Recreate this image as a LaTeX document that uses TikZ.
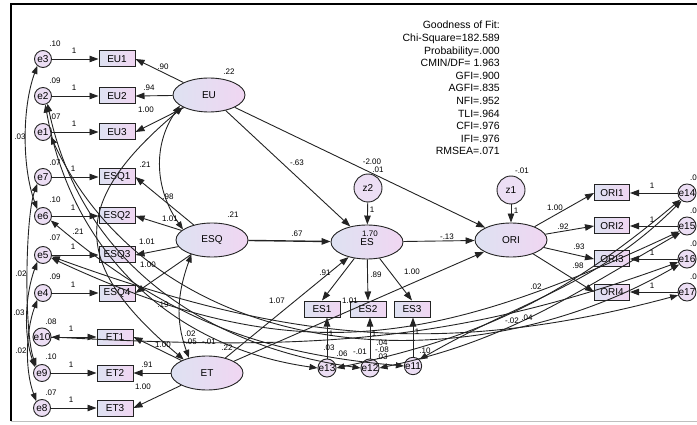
\documentclass[tikz,border=0pt]{standalone}
\usepackage{fontspec}
\setmainfont{Liberation Sans}
\usetikzlibrary{positioning,arrows.meta,shapes.geometric}
\definecolor{LatLeft}{RGB}{222,226,242}
\definecolor{LatRight}{RGB}{240,214,242}
\definecolor{ErrFill}{RGB}{236,222,244}
\definecolor{LineGray}{RGB}{35,35,35}

\begin{document}
\begin{tikzpicture}[
  x=1pt, y=1pt,
  every node/.style={font=\fontsize{10}{12}\selectfont},
  lat/.style={ellipse, draw=LineGray, line width=0.9pt,
    left color=LatLeft, right color=LatRight,
    minimum width=72pt, minimum height=34pt, inner sep=0pt},
  obs/.style={rectangle, draw=LineGray, line width=1pt,
    left color=LatLeft, right color=LatRight,
    minimum width=36pt, minimum height=16pt, inner sep=0pt},
  err/.style={circle, draw=LineGray, line width=0.9pt, fill=ErrFill,
    minimum size=17pt, inner sep=0pt},
  res/.style={err, minimum size=28pt},
  num/.style={font=\fontsize{8}{9}\selectfont, inner sep=0pt},
  pth/.style={-{Triangle[length=9pt,width=6.5pt]}, line width=0.9pt, LineGray},
  cov/.style={{Triangle[length=8pt,width=6pt]}-{Triangle[length=8pt,width=6pt]},
    line width=0.9pt, LineGray},
]
  \useasboundingbox (0,0) rectangle (697,-425);
  % frame
  \draw[line width=1.6pt] (11,-421) -- (11,-4) -- (697,-4);
  \draw[black!25] (11,-421) -- (697,-421);

  % ---------- latent variables ----------
  \node[lat] (EU)  at (209,-95)  {EU};
  \node[lat] (ESQ) at (212,-240) {ESQ};
  \node[lat] (ET)  at (207,-373) {ET};
  \node[lat] (ES)  at (367,-242) {ES};
  \node[lat] (ORI) at (511,-240) {ORI};
  \node[res] (z2)  at (368,-188) {z2};
  \node[res] (z1)  at (511,-190) {z1};

  % ---------- indicators and errors, left ----------
  \foreach \o/\e/\y in {EU1/e3/59, EU2/e2/96, EU3/e1/132,
      ESQ1/e7/177, ESQ2/e6/216, ESQ3/e5/255, ESQ4/e4/293} {
    \node[obs] (\o) at (117,-\y) {\o};
    \node[err] (\e) at (43,-\y) {\e};
  }
  \foreach \o/\e/\y in {ET1/e10/337, ET2/e9/373, ET3/e8/408} {
    \node[obs] (\o) at (115,-\y) {\o};
    \node[err] (\e) at (42,-\y) {\e};
  }
  % ---------- ES block ----------
  \node[obs] (ES1) at (322,-309) {ES1};
  \node[obs] (ES2) at (368,-309) {ES2};
  \node[obs] (ES3) at (412,-309) {ES3};
  \node[err] (e13) at (327,-368) {e13};
  \node[err] (e12) at (370,-368) {e12};
  \node[err] (e11) at (413,-366) {e11};
  % ---------- ORI block ----------
  \foreach \o/\e/\y in {ORI1/e14/193, ORI2/e15/226, ORI3/e16/259, ORI4/e17/292} {
    \node[obs, minimum width=35pt] (\o) at (612,-\y) {\o};
    \node[err] (\e) at (687,-\y) {\e};
  }

  % ---------- fit box ----------
  \node[anchor=north east, align=right, inner sep=0pt,
    font=\fontsize{10.5}{12.6}\selectfont] (fit) at (500,-21)
    {Goodness of Fit:\\Chi-Square=182.589\\Probability=.000\\CMIN/DF= 1.963\\
     GFI=.900\\AGFI=.835\\NFI=.952\\TLI=.964\\CFI=.976\\IFI=.976\\RMSEA=.071};

  % ---------- measurement paths ----------
  \foreach \e/\o in {e3/EU1, e2/EU2, e1/EU3, e7/ESQ1, e6/ESQ2, e5/ESQ3, e4/ESQ4,
      e10/ET1, e9/ET2, e8/ET3}
    \draw[pth] (\e) -- (\o);
  \foreach \l/\o in {EU/EU1, EU/EU2, EU/EU3, ESQ/ESQ1, ESQ/ESQ2, ESQ/ESQ3, ESQ/ESQ4,
      ET/ET1, ET/ET2, ET/ET3}
    \draw[pth] (\l) -- (\o.east);
  \foreach \o in {ES1, ES2, ES3}
    \draw[pth] (ES) -- (\o.north);
  \draw[pth] (e13.north) -- (e13.north|-ES1.south);
  \draw[pth] (e12.north) -- (e12.north|-ES2.south);
  \draw[pth] (e11.north) -- (e11.north|-ES3.south);
  \foreach \o/\e in {ORI1/e14, ORI2/e15, ORI3/e16, ORI4/e17} {
    \draw[pth] (ORI) -- (\o.west);
    \draw[pth] (\e) -- (\o);
  }

  % ---------- structural paths ----------
  \draw[pth] (EU) -- (ES);
  \draw[pth] (EU) -- (ORI);
  \draw[pth, line width=1.4pt] (ESQ) -- (ES);
  \draw[pth] (ES) -- (ORI);
  \draw[pth] (ET) -- (ES);
  \draw[pth] (ET) -- (ORI);
  \draw[pth] (z2) -- (ES);
  \draw[pth] (z1) -- (ORI);

  % ---------- covariances between latents ----------
  \draw[cov] (EU.200) to[out=235, in=125] (ESQ.160);
  \draw[cov] (EU.205) to[out=220, in=140, looseness=1.5] (ET.150);
  \draw[cov] (ESQ.215) to[out=250, in=110] (ET.140);

  % ---------- covariances between errors, left ----------
  \draw[cov] (e3.230) to[out=250, in=110, looseness=0.8] (e6.130);
  \draw[cov] (e7.230) to[out=250, in=110, looseness=0.5] (e9.130);
  \draw[cov] (e5.230) to[out=250, in=110, looseness=0.85] (e9.140);
  \draw[cov] (e4.230) to[out=250, in=110, looseness=0.85] (e8.130);

  % ---------- covariances between errors, across ----------
  \draw[cov] (e2.285) to[out=-80, in=172] (e13.west);
  \draw[cov] (e2.300) to[out=-78, in=172] (e12.west);
  \draw[cov] (e1.330) to[out=-65, in=210] (e16.215);
  \draw[cov] (e6.330) to[out=-40, in=175] (e11.west);
  \draw[cov] (e5.340) to[out=-25, in=205, looseness=1.1] (e15.215);
  \draw[cov] (e5.350) to[out=-20, in=195] (e17.200);
  \draw[cov] (e10.east) to[out=-3, in=200] (e16.200);
  \draw[cov] (e13.east) to[out=12, in=220] (e14.225);
  \draw[cov] (e12.east) to[out=12, in=210] (e15.225);
  \draw[cov] (e11.45) to[out=30, in=225] (e14.235);

  % ---------- numbers ----------
  \foreach \x/\y/\t [count=\i] in {
      55/44/.10, 55/81/.09, 55/117/.07, 55/163/.07, 55/200/.10, 55/238/.07,
      55/277/.09, 51/322/.08, 51/357/.10, 51/393/.07,
      74/51/1, 74/88/1, 74/124/1, 73/169/1, 73/208/1, 73/247/1, 73/285/1,
      71/329/1, 71/365/1, 71/400/1,
      20/137/.03, 21/274/.02, 19/313/.03, 21/351/.02,
      229/72/.22, 163/67/.90, 149/88/.94, 146/110/1.00,
      233/215/.21, 168/197/.98, 170/219/1.01, 147/242/1.01, 148/265/1.00,
      145/165/.21, 78/232/.21, 163/305/.19,
      227/348/.22, 163/345/1.00, 147/365/.91, 143/387/1.00,
      190/334/.02, 190/342/-.05, 209/342/-.01,
      297/163/-.63, 372/162/-2.00, 378/170/.01, 297/234/.67, 447/237/-.13,
      370/234/1.70, 277/301/1.07, 350/301/1.01,
      372/210/1, 516/211/1, 522/171/-.01,
      325/273/.91, 376/275/.89, 412/272/1.00, 331/334/1, 374/334/1, 417/332/1,
      555/208/1.00, 563/227/.92, 579/247/.93, 578/266/.98,
      652/186/1, 652/220/1, 652/253/1, 652/286/1,
      329/348/.03, 342/354/.06, 360/352/-.01, 382/343/.04, 382/350/-.08,
      382/357/.03, 425/351/.10,
      536/287/.02, 512/321/-.02, 527/318/.04}
    \node[num] (n\i) at (\x,-\y) {\t};
  \foreach \y [count=\i] in {178, 211, 244, 277}
    \node[num, anchor=west] (r\i) at (690,-\y) {.0};
\end{tikzpicture}
\end{document}
